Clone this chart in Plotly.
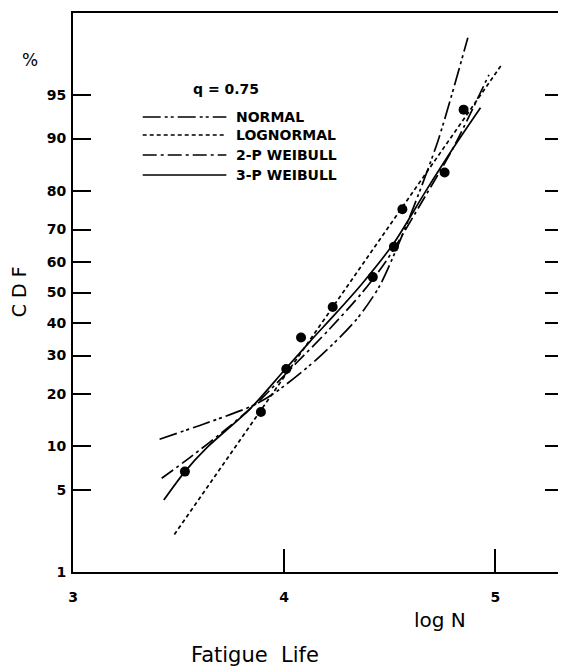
import plotly.graph_objects as go
from statistics import NormalDist

# ---------------- data ----------------
pts_logN = [3.53, 3.89, 4.01, 4.08, 4.23, 4.42, 4.52, 4.56, 4.76, 4.85]
pts_cdf = [6.8, 16.0, 26.2, 35.4, 45.2, 55.1, 64.8, 75.6, 84.1, 93.6]

normal_logN = [3.41, 3.62, 3.84, 3.95, 4.15, 4.34, 4.45, 4.53, 4.62, 4.73, 4.87]
normal_cdf = [11.1, 13.7, 17.1, 20.0, 28.7, 40.9, 51.9, 63.8, 77.1, 89.8, 98.3]

lognormal_logN = [3.48, 5.03]
lognormal_cdf = [2.2, 97.1]

weib2_logN = [3.42, 3.55, 3.74, 3.84, 3.90, 4.06, 4.21, 4.37, 4.48, 4.67, 4.80, 4.97]
weib2_cdf = [6.1, 8.4, 13.2, 16.7, 19.2, 28.0, 37.7, 50.0, 60.0, 79.0, 88.5, 96.5]

weib3_logN = [3.43, 3.53, 3.64, 3.84, 4.00, 4.12, 4.25, 4.37, 4.52, 4.67, 4.80, 4.93]
weib3_cdf = [4.2, 6.8, 10.0, 16.7, 25.8, 34.0, 43.5, 53.0, 66.0, 80.0, 88.5, 93.8]

y_tick_pct = [1, 5, 10, 20, 30, 40, 50, 60, 70, 80, 90, 95, 99]
y_tick_text = ["1", "5", "10", "20", "30", "40", "50", "60", "70", "80", "90", "95", "9\u2007"]
x_tick_vals = [3, 4, 5]
x_tick_text = ["3", "4", "5"]

legend_names = ["NORMAL", "LOGNORMAL", "2-P WEIBULL", "3-P WEIBULL"]
legend_dashes = ["18px,4px,3px,3px,3px,4px", "4px,3px", "14px,4px,3px,4px", "solid"]

# ---------------- probability-scale transform ----------------
nd = NormalDist()


def z(pcts):
    return [nd.inv_cdf(p / 100.0) for p in pcts]


fig = go.Figure()
line_w = 1.7
series = [
    (normal_logN, normal_cdf, legend_dashes[0], legend_names[0]),
    (lognormal_logN, lognormal_cdf, legend_dashes[1], legend_names[1]),
    (weib2_logN, weib2_cdf, legend_dashes[2], legend_names[2]),
    (weib3_logN, weib3_cdf, legend_dashes[3], legend_names[3]),
]
for xs, ps, dash, name in series:
    fig.add_trace(go.Scatter(
        x=xs, y=z(ps), mode="lines", name=name, showlegend=False,
        line=dict(color="black", width=line_w, dash=dash, shape="spline", smoothing=0.8),
        hoverinfo="skip",
    ))

fig.add_trace(go.Scatter(
    x=pts_logN, y=z(pts_cdf), mode="markers", showlegend=False,
    marker=dict(color="black", size=10), name="data",
))

# ---------------- layout ----------------
OFF = 8  # page body margin of the html page
W, H = 566 - OFF, 670 - OFF
ml, mr, mt, mb = 73 - OFF, 1, 13 - OFF, 98
plot_w = W - ml - mr
plot_h = H - mt - mb
px_per_unit = 212.0
x_max = 3 + plot_w / px_per_unit
z_lim = nd.inv_cdf(0.99)


def px(xpix):
    return (xpix - OFF - ml) / plot_w


def py(ypix):
    return (H - mb - (ypix - OFF)) / plot_h


bold_font = dict(family="DejaVu Sans", size=14, color="black", weight="bold")

fig.update_layout(
    width=W, height=H,
    margin=dict(l=ml, r=mr, t=mt, b=mb, pad=0),
    paper_bgcolor="white", plot_bgcolor="white",
    xaxis=dict(
        range=[3, x_max], tickvals=x_tick_vals, ticktext=x_tick_text,
        ticks="inside", ticklen=23, tickwidth=1.6, tickcolor="black",
        showline=True, linewidth=2, linecolor="black", mirror=True,
        showgrid=False, zeroline=False, tickfont=bold_font,
        ticklabelstandoff=11,
    ),
    yaxis=dict(
        range=[-z_lim, z_lim], tickvals=z(y_tick_pct), ticktext=y_tick_text,
        ticks="inside", ticklen=18, tickwidth=1.6, tickcolor="black",
        showline=True, linewidth=2, linecolor="black", mirror="ticks",
        showgrid=False, zeroline=False, tickfont=bold_font,
        ticklabelstandoff=2,
    ),
)

# legend key drawn by hand (long samples as in the reference)
legend_rows_px = [117, 135, 155, 175]
for name, dash, ypix in zip(legend_names, legend_dashes, legend_rows_px):
    fig.add_shape(type="line", xref="paper", yref="paper",
                  x0=px(143), x1=px(227), y0=py(ypix), y1=py(ypix),
                  line=dict(color="black", width=line_w, dash=dash))
    fig.add_annotation(xref="paper", yref="paper", x=px(235), y=py(ypix),
                       text=name, showarrow=False, xanchor="left", yanchor="middle",
                       font=dict(family="DejaVu Sans", size=14, color="black", weight="bold"))

fig.add_annotation(xref="paper", yref="paper", x=px(227), y=py(89),
                   text="q = 0.75", showarrow=False, xanchor="center", yanchor="middle",
                   font=dict(family="DejaVu Sans", size=14, color="black", weight="bold"))

fig.add_annotation(xref="paper", yref="paper", x=px(30), y=py(60),
                   text="%", showarrow=False, xanchor="center", yanchor="middle",
                   font=dict(family="DejaVu Sans", size=17, color="black"))

fig.add_annotation(xref="paper", yref="paper", x=px(19), y=py(292),
                   text="C D F", showarrow=False, textangle=-90,
                   xanchor="center", yanchor="middle",
                   font=dict(family="DejaVu Sans", size=19, color="black"))

fig.add_annotation(xref="paper", yref="paper", x=px(441), y=py(620),
                   text="log N", showarrow=False, xanchor="center", yanchor="middle",
                   font=dict(family="DejaVu Sans", size=20, color="black"))

fig.add_annotation(xref="paper", yref="paper", x=px(256), y=py(655),
                   text="Fatigue  Life", showarrow=False, xanchor="center", yanchor="middle",
                   font=dict(family="DejaVu Sans", size=21, color="black"))

fig.write_html("out.html")
